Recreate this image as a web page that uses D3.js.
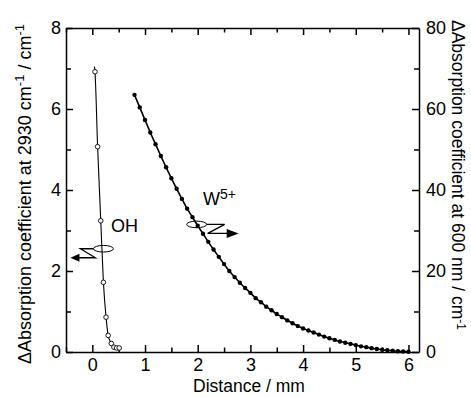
<!DOCTYPE html>
<html><head><meta charset="utf-8">
<script src="https://cdn.jsdelivr.net/npm/d3@7/dist/d3.min.js"></script>
<style>
body{margin:0;background:#fff;}
svg{display:block;font-family:"Liberation Sans",Arial,sans-serif;}
</style></head>
<body><svg id="c" width="471" height="397"></svg>
<script>
// ---- data ----
const xTicks = [0,1,2,3,4,5,6];
const xMinor = [-0.5,0.5,1.5,2.5,3.5,4.5,5.5];
const yLeftTicks = [0,2,4,6,8];
const yLeftMinor = [1,3,5,7];
const yRightTicks = [0,20,40,60,80];
const yRightMinor = [10,30,50,70];

const ohX = [0.05,0.10,0.16,0.21,0.26,0.30,0.36,0.41,0.46,0.51];
const ohY = [6.92,5.07,3.24,1.72,0.86,0.41,0.21,0.12,0.10,0.10];
const ohFitX = [0.04,0.05,0.10,0.16,0.21,0.26,0.30,0.36,0.41,0.46,0.51];
const ohFitY = [7.05,6.92,5.07,3.24,1.72,0.86,0.41,0.21,0.12,0.10,0.10];

const wX = [0.8,0.9,1.0,1.1,1.2,1.3,1.4,1.5,1.6,1.7,1.8,1.9,2.0,2.1,2.2,2.3,2.4,2.5,2.6,2.7,2.8,2.9,3.0,3.1,3.2,3.3,3.4,3.5,3.6,3.7,3.8,3.9,4.0,4.1,4.2,4.3,4.4,4.5,4.6,4.7,4.8,4.9,5.0,5.1,5.2,5.3,5.4,5.5,5.6,5.7,5.8,5.9,6.0];
const wY = [63.5,60.4,57.3,54.2,51.3,48.4,45.6,42.9,40.3,37.8,35.4,33.3,31.2,29.2,27.2,25.3,23.5,21.7,20.0,18.5,17.1,15.8,14.6,13.3,12.3,11.2,10.3,9.4,8.6,7.8,7.1,6.4,5.8,5.3,4.8,4.3,3.8,3.4,3.0,2.6,2.3,2.0,1.7,1.4,1.2,0.95,0.75,0.55,0.42,0.30,0.20,0.12,0.05];

// ---- layout ----
const W = 471, H = 397;
const m = {left:66, right:52, top:28, bottom:45};
const svg = d3.select("#c");
const x = d3.scaleLinear().domain([-0.5,6.2]).range([m.left, W-m.right]);
const yL = d3.scaleLinear().domain([0,8]).range([H-m.bottom, m.top]);
const yR = d3.scaleLinear().domain([0,80]).range([H-m.bottom, m.top]);
const FS = 18;

function styleAxis(g){
  g.selectAll("path.domain").attr("stroke","#000").attr("stroke-width",1.5);
  g.selectAll(".tick line").attr("stroke","#000").attr("stroke-width",1.5);
  g.selectAll(".tick text").attr("font-size",FS).attr("font-family","Liberation Sans, Arial, sans-serif").attr("fill","#000");
}
const B = H-m.bottom, T = m.top, L = m.left, R = W-m.right;

// bottom
svg.append("g").attr("transform",`translate(0,${B})`)
  .call(d3.axisBottom(x).tickValues(xTicks).tickSize(-7).tickSizeOuter(0).tickPadding(6).tickFormat(d3.format("d"))).call(styleAxis);
svg.append("g").attr("transform",`translate(0,${B})`)
  .call(d3.axisBottom(x).tickValues(xMinor).tickSize(-4.5).tickSizeOuter(0).tickFormat("")).call(styleAxis)
  .select("path.domain").remove();
// top
svg.append("g").attr("transform",`translate(0,${T})`)
  .call(d3.axisTop(x).tickValues(xTicks).tickSize(-7).tickSizeOuter(0).tickFormat("")).call(styleAxis);
svg.append("g").attr("transform",`translate(0,${T})`)
  .call(d3.axisTop(x).tickValues(xMinor).tickSize(-4.5).tickSizeOuter(0).tickFormat("")).call(styleAxis)
  .select("path.domain").remove();
// left
svg.append("g").attr("transform",`translate(${L},0)`)
  .call(d3.axisLeft(yL).tickValues(yLeftTicks).tickSize(-7).tickSizeOuter(0).tickPadding(5).tickFormat(d3.format("d"))).call(styleAxis);
svg.append("g").attr("transform",`translate(${L},0)`)
  .call(d3.axisLeft(yL).tickValues(yLeftMinor).tickSize(-5).tickSizeOuter(0).tickFormat("")).call(styleAxis)
  .select("path.domain").remove();
// right
svg.append("g").attr("transform",`translate(${R},0)`)
  .call(d3.axisRight(yR).tickValues(yRightTicks).tickSize(-7).tickSizeOuter(0).tickPadding(7).tickFormat(d3.format("d"))).call(styleAxis);
svg.append("g").attr("transform",`translate(${R},0)`)
  .call(d3.axisRight(yR).tickValues(yRightMinor).tickSize(-5).tickSizeOuter(0).tickFormat("")).call(styleAxis)
  .select("path.domain").remove();

// axis titles
svg.append("text").attr("x",249).attr("y",392).attr("text-anchor","middle")
  .attr("font-size",17.5).text("Distance / mm");

const lt = svg.append("text").attr("transform","translate(31,194) rotate(-90)")
  .attr("text-anchor","middle").attr("font-size",18);
lt.append("tspan").text("\u0394Absorption coefficient at 2930 cm");
lt.append("tspan").attr("dy",-7).attr("font-size",13).text("-1");
lt.append("tspan").attr("dy",7).text(" / cm");
lt.append("tspan").attr("dy",-7).attr("font-size",13).text("-1");

const rt = svg.append("text").attr("transform","translate(452,20) rotate(90)")
  .attr("text-anchor","start").attr("font-size",17.5);
rt.append("tspan").text("\u0394Absorption coefficient at 600 nm / cm");
rt.append("tspan").attr("dy",-5).attr("font-size",12).text("-1");

// OH series
const ohFit = ohFitX.map((v,i)=>[v,ohFitY[i]]);
svg.append("path").datum(ohFit)
  .attr("d", d3.line().x(d=>x(d[0])).y(d=>yL(d[1])).curve(d3.curveMonotoneX))
  .attr("fill","none").attr("stroke","#000").attr("stroke-width",1.1);
svg.selectAll("circle.oh").data(ohX.map((v,i)=>[v,ohY[i]])).join("circle")
  .attr("class","oh").attr("cx",d=>x(d[0])).attr("cy",d=>yL(d[1])).attr("r",2.3)
  .attr("fill","#fff").attr("stroke","#000").attr("stroke-width",0.9);

// W5+ series
const wPts = wX.map((v,i)=>[v,wY[i]]);
svg.append("path").datum(wPts)
  .attr("d", d3.line().x(d=>x(d[0])).y(d=>yR(d[1])).curve(d3.curveMonotoneX))
  .attr("fill","none").attr("stroke","#000").attr("stroke-width",1.6);
svg.selectAll("circle.w").data(wPts).join("circle")
  .attr("class","w").attr("cx",d=>x(d[0])).attr("cy",d=>yR(d[1])).attr("r",2.2)
  .attr("fill","#000");

// annotations
svg.append("text").attr("x",111).attr("y",232).attr("font-size",FS).text("OH");
const wt = svg.append("text").attr("x",203).attr("y",205).attr("font-size",FS);
wt.append("tspan").text("W");
wt.append("tspan").attr("dy",-6).attr("font-size",14).text("5+");

// OH marker: ellipse + zigzag + left arrow
const ohAnchor = [0.21, 2.55];
const oc = [x(ohAnchor[0]), yL(ohAnchor[1])];
svg.append("ellipse").attr("cx",oc[0]).attr("cy",oc[1]).attr("rx",10).attr("ry",3.3)
  .attr("fill","none").attr("stroke","#000").attr("stroke-width",1);
svg.append("path").attr("d",`M${oc[0]-10},${oc[1]} L${oc[0]-23},${oc[1]} L${oc[0]-8},${oc[1]+9} L${oc[0]-26},${oc[1]+9}`)
  .attr("fill","none").attr("stroke","#000").attr("stroke-width",1.3);
svg.append("path").attr("d",`M${oc[0]-33},${oc[1]+9} L${oc[0]-24},${oc[1]+5} L${oc[0]-24},${oc[1]+13} Z`).attr("fill","#000");

// W5+ marker: ellipse + zigzag + right arrow
const wAnchor = [1.98, 31.5];
const wc = [x(wAnchor[0]), yR(wAnchor[1])];
svg.append("ellipse").attr("cx",wc[0]).attr("cy",wc[1]).attr("rx",10).attr("ry",3.3)
  .attr("fill","none").attr("stroke","#000").attr("stroke-width",1);
svg.append("path").attr("d",`M${wc[0]+10},${wc[1]} L${wc[0]+28},${wc[1]} L${wc[0]+11},${wc[1]+9} L${wc[0]+31},${wc[1]+9}`)
  .attr("fill","none").attr("stroke","#000").attr("stroke-width",1.3);
svg.append("path").attr("d",`M${wc[0]+42},${wc[1]+9} L${wc[0]+30},${wc[1]+4.5} L${wc[0]+30},${wc[1]+13.5} Z`).attr("fill","#000");
</script>
</body></html>
